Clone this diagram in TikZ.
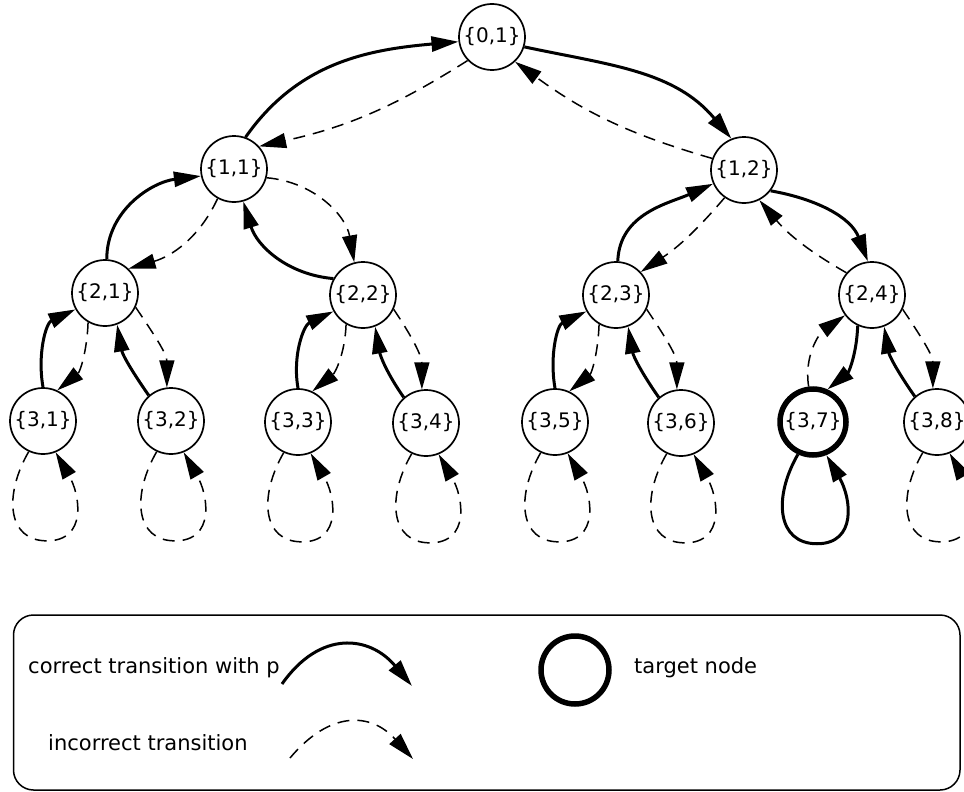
\documentclass[tikz,border=0pt]{standalone}
\usepackage{fontspec}
\setmainfont{DejaVu Sans}
\usetikzlibrary{arrows.meta}
\tikzset{
  st/.style={circle, draw, line width=1.7pt, minimum size=66pt, inner sep=0pt, font=\fontsize{20}{24}\selectfont},
  tgt/.style={st, line width=5.5pt},
  tip/.style={-{Triangle[length=27pt,width=15pt]}},
  good/.style={tip, line width=3pt},
  bad/.style={tip, line width=1.5pt, dash pattern=on 12pt off 8pt},
  lbl/.style={anchor=west, inner sep=0pt, font=\fontsize{21}{25}\selectfont},
}
\begin{document}
\begin{tikzpicture}[x=1pt,y=1pt]
\clip (0,0) rectangle (964,-792);
% nodes
\node[st] (n01) at (492,-37) {\{0,1\}};
\node[st] (n11) at (234,-169) {\{1,1\}};
\node[st] (n12) at (744,-170) {\{1,2\}};
\node[st] (n21) at (105,-293) {\{2,1\}};
\node[st] (n22) at (363,-295) {\{2,2\}};
\node[st] (n23) at (616,-295) {\{2,3\}};
\node[st] (n24) at (872,-295) {\{2,4\}};
\node[st] (n31) at (43,-421) {\{3,1\}};
\node[st] (n32) at (171,-421) {\{3,2\}};
\node[st] (n33) at (298,-422) {\{3,3\}};
\node[st] (n34) at (426,-423) {\{3,4\}};
\node[st] (n35) at (555,-422) {\{3,5\}};
\node[st] (n36) at (681,-423) {\{3,6\}};
\node[tgt] (n37) at (813,-422) {\{3,7\}};
\node[st] (n38) at (937,-422) {\{3,8\}};
% level 0-1
\draw[good] (n11.70) to[out=55,in=185] (n01.188);
\draw[bad] (n01.224) to[bend left=10] (n11.42);
\draw[good] (n01.343) to[out=-12,in=130] (n12.112);
\draw[bad] (n12.160) to[bend left=10] (n01.313);
% level 1-2
\draw[good] (n21.87) to[out=90,in=187] (n11.192);
\draw[bad] (n11.241) to[out=245,in=16] (n21.46);
\draw[bad] (n11.345) to[out=-5,in=100] (n22.105);
\draw[good] (n22.151) to[out=175,in=287] (n11.286);
\draw[good] (n23.87) to[out=88,in=204] (n12.204);
\draw[bad] (n12.235) to[bend left=8] (n23.43);
\draw[good] (n12.322) to[out=-10,in=111] (n24.97);
\draw[bad] (n24.139) to[bend left=10] (n12.297);
% level 2-3
\draw[good] (n31.90) to[out=100,in=205] (n21.209);
\draw[bad] (n21.240) to[out=268,in=39] (n31.65);
\draw[bad] (n21.335) to[out=304,in=90] (n32.97);
\draw[good] (n32.131) to[out=125,in=280] (n21.291);
\draw[good] (n33.90) to[out=100,in=205] (n22.209);
\draw[bad] (n22.240) to[out=268,in=39] (n33.65);
\draw[bad] (n22.335) to[out=304,in=90] (n34.97);
\draw[good] (n34.131) to[out=125,in=280] (n22.291);
\draw[good] (n35.90) to[out=100,in=205] (n23.209);
\draw[bad] (n23.240) to[out=268,in=39] (n35.65);
\draw[bad] (n23.335) to[out=304,in=90] (n36.97);
\draw[good] (n36.131) to[out=125,in=280] (n23.291);
\draw[bad] (n37.97) to[out=99,in=215] (n24.217);
\draw[good] (n24.245) to[out=268,in=39] (n37.66);
\draw[bad] (n24.335) to[out=304,in=90] (n38.97);
\draw[good] (n38.131) to[out=125,in=280] (n24.291);
% loops
\foreach \n in {n31,n32,n33,n34,n35,n36,n37,n38}{
  \coordinate (\n b) at ([shift={(4,-86)}]\n.south);
}
\foreach \n in {n31,n32,n33,n34,n35,n36,n38}{
  \draw[bad] (\n.245) .. controls +(240:50) and +(180:40) .. (\n b) .. controls +(0:40) and +(300:50) .. (\n.292);
}
\draw[good] (n37.245) .. controls +(240:50) and +(180:40) .. (n37b) .. controls +(0:40) and +(300:50) .. (n37.292);
% legend
\draw[rounded corners=20pt, line width=1.5pt] (13.5,-615) rectangle (960,-790);
\node[lbl] (l1) at (28,-668) {correct transition with p};
\node[lbl] (l2) at (48,-743) {incorrect transition};
\coordinate (a1) at (282,-684);
\coordinate (a2) at (412,-686);
\draw[good] (a1) to[out=55,in=130,looseness=1.3] (a2);
\coordinate (b1) at (290,-758);
\coordinate (b2) at (413,-759);
\draw[bad] (b1) to[out=50,in=132,looseness=1.3] (b2);
\node[tgt, minimum size=68pt] (l3) at (575,-670) {};
\node[lbl] (l4) at (634,-668) {target node};
\end{tikzpicture}
\end{document}
